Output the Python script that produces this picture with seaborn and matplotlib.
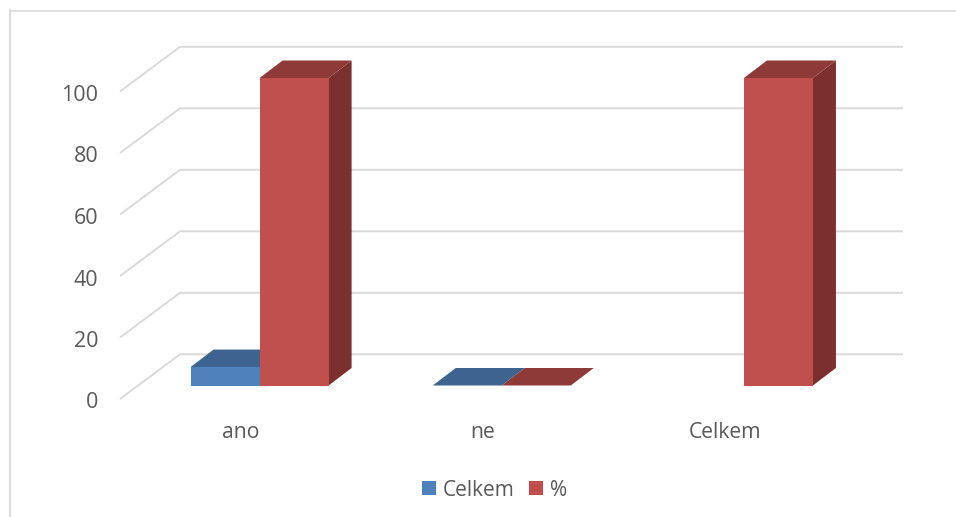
import numpy as np
import pandas as pd
import matplotlib
matplotlib.use("Agg")
import matplotlib.pyplot as plt
from matplotlib.lines import Line2D
from matplotlib.patches import Polygon
from matplotlib.transforms import Affine2D
import seaborn as sns

# Survey results
categories = ["ano", "ne", "Celkem"]
celkem_values = [6, 0, np.nan]
percent_values = [100, 0, 100]
y_ticks = [0, 20, 40, 60, 80, 100]

# Face shades per series: front, top, side
shades = {
    "Celkem": ("#4F81BD", "#3D6490", "#2F4F75"),
    "%": ("#C0504D", "#8E3A38", "#7B302E"),
}
grid_color = "#D9D9D9"
text_color = "#595959"

sns.set_theme(style="white")
plt.rcParams["font.family"] = ["Open Sans", "DejaVu Sans"]

W, H = 956, 517
fig = plt.figure(figsize=(W / 100, H / 100), dpi=100)
fig.patch.set_facecolor("white")

# Axes spans the front plane of the bars; sizes below are in pixels
left, right, top, bottom = 138.5, 865.0, 78.0, 385.5
ax = fig.add_axes([left / W, 1 - bottom / H, (right - left) / W, (bottom - top) / H])

df = pd.DataFrame({
    "category": categories * 2,
    "series": ["Celkem"] * 3 + ["%"] * 3,
    "value": celkem_values + percent_values,
})
sns.barplot(
    data=df, x="category", y="value", hue="series",
    order=categories, hue_order=list(shades),
    palette={k: v[0] for k, v in shades.items()},
    width=0.57, gap=0, saturation=1, linewidth=0, ax=ax,
)
ax.set_xlim(-0.5, 2.5)
ax.set_ylim(0, 100)
ax.set_xlabel("")
ax.set_ylabel("")
for spine in ax.spines.values():
    spine.set_visible(False)
ax.patch.set_alpha(0)

px_x = (right - left) / 3.0
px_y = (bottom - top) / 100.0
to_x = lambda p: -0.5 + (p - left) / px_x

# Walls: the floor/back-wall gridlines run from the front edge to the back plane
for v in y_ticks:
    ax.plot(
        [to_x(120), to_x(180), to_x(903)],
        [v - 13.5 / px_y, v + 31.2 / px_y, v + 31.2 / px_y],
        color=grid_color, lw=1.4, clip_on=False, zorder=1,
        solid_joinstyle="miter", solid_capstyle="butt",
    )

# Extruded top and side faces for each bar
dx, dy = 23.0 / px_x, 17.5 / px_y
for order, (container, name) in enumerate(zip(ax.containers, shades)):
    front, top_c, side_c = shades[name]
    base_z = 2 + order * 2
    for bar in container:
        h = bar.get_height()
        if not np.isfinite(h):
            continue
        x0, x1 = bar.get_x(), bar.get_x() + bar.get_width()
        bar.set_zorder(base_z + 1)
        bar.set_clip_on(False)
        ax.add_patch(Polygon(
            [(x0, h), (x1, h), (x1 + dx, h + dy), (x0 + dx, h + dy)],
            closed=True, facecolor=top_c, edgecolor="none",
            zorder=base_z + 0.5, clip_on=False,
        ))
        if h > 0:
            ax.add_patch(Polygon(
                [(x1, 0), (x1 + dx, dy), (x1 + dx, h + dy), (x1, h)],
                closed=True, facecolor=side_c, edgecolor="none",
                zorder=base_z, clip_on=False,
            ))

# Tick labels sit on the front edge of the floor, away from the bars
ax.set_yticks(y_ticks)
ax.tick_params(axis="y", length=0, pad=29, labelsize=15.5, labelcolor=text_color)
ax.tick_params(axis="x", length=0, pad=26, labelsize=15.2, labelcolor=text_color)
for label in ax.get_yticklabels():
    label.set_transform(label.get_transform() + Affine2D().translate(0, -15))
for label in ax.get_xticklabels():
    label.set_transform(label.get_transform() + Affine2D().translate(-19, 0))

handles, labels = ax.get_legend_handles_labels()
legend = fig.legend(
    handles, labels, loc="center", bbox_to_anchor=(494.5 / W, 1 - 490 / H),
    ncol=2, frameon=False, fontsize=15, labelcolor=text_color,
    handlelength=0.65, handleheight=0.65, handletextpad=0.32,
    columnspacing=0.72, borderpad=0, borderaxespad=0,
)
if ax.get_legend() is not None:
    ax.get_legend().remove()

# Chart area border along the top and left edges
fig.add_artist(Line2D([10 / W, 10 / W], [0, 1 - 10 / H], color="#DDDDDD", lw=1.6,
                      transform=fig.transFigure))
fig.add_artist(Line2D([9.5 / W, 1], [1 - 10.5 / H, 1 - 10.5 / H], color="#DDDDDD", lw=1.3,
                      transform=fig.transFigure))

fig.savefig("out.png", dpi=100)
